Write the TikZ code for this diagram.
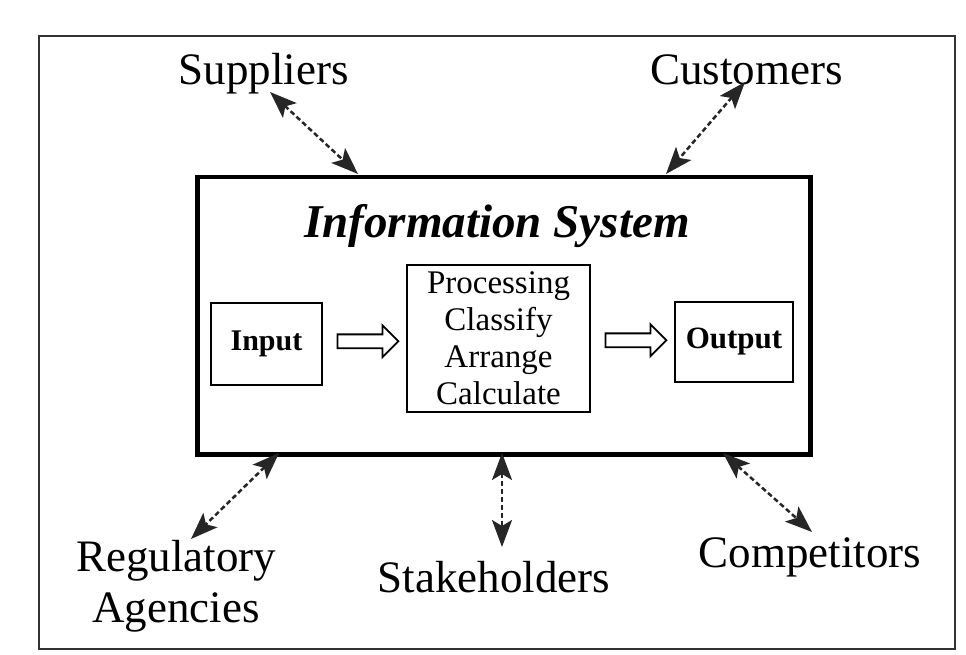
\documentclass[tikz,border=0pt]{standalone}
\usepackage{fontspec}
\setmainfont{Liberation Serif}
\usetikzlibrary{arrows.meta,shapes.arrows,calc}
\begin{document}
\begin{tikzpicture}[x=1pt,y=-1pt,
  lbl/.style={font=\fontsize{45}{45}\selectfont, inner sep=0pt, anchor=base},
  smallbox/.style={draw, line width=2pt, inner sep=0pt},
  hollow/.style={single arrow, draw, line width=1.8pt, fill=white,
    minimum height=61pt, minimum width=30pt, inner sep=6pt,
    text height=0pt, text depth=0pt, single arrow head extend=9pt},
  conn/.style={dash pattern=on 5pt off 3pt, line width=2.5pt, draw=black!85,
    {Stealth[length=27pt,width=20pt,inset=6pt]}-{Stealth[length=27pt,width=20pt,inset=6pt]}}]
\useasboundingbox (0,0) rectangle (966,655);
\fill[white] (0,0) rectangle (966,655);
\draw[line width=2.2pt, draw=black!80] (39,36) rectangle (955,649);

\node[draw, line width=4.5pt, minimum width=613pt, minimum height=277pt,
  inner sep=0pt, anchor=north west] (info) at (195,175) {};
\node[font=\fontsize{47}{47}\selectfont\bfseries\itshape, inner sep=0pt, anchor=base]
  (title) at (497,237) {Information System};

\node[smallbox, minimum width=111pt, minimum height=82pt,
  font=\fontsize{30}{30}\selectfont\bfseries] (input) at (266.5,344) {Input};
\node[smallbox, minimum width=183pt, minimum height=147pt, align=center,
  font=\fontsize{33}{37}\selectfont] (proc) at (498.5,338.5)
  {Processing\\Classify\\Arrange\\Calculate};
\node[smallbox, minimum width=118pt, minimum height=80pt,
  font=\fontsize{31}{31}\selectfont\bfseries] (output) at (734,342) {Output};

\node[hollow] (a1) at ($(input.east)!0.5!(proc.west)$) {};
\node[hollow] (a2) at ($(proc.east)!0.5!(output.west)$) {};

\node[lbl] (sup) at (263.5,85) {Suppliers};
\node[lbl] (cus) at (746.5,85) {Customers};
\node[lbl, align=center, font=\fontsize{45}{51}\selectfont] (reg) at (176,622) {Regulatory\\Agencies};
\node[lbl] (stk) at (494,592) {Stakeholders};
\node[lbl] (com) at (810,567) {Competitors};

\coordinate (s1) at (270,92);   \coordinate (s2) at (358,174);
\coordinate (c1) at (745,82);   \coordinate (c2) at (666,174);
\coordinate (r1) at (279,453);  \coordinate (r2) at (191,539);
\coordinate (k1) at (502,453);  \coordinate (k2) at (502,547);
\coordinate (m1) at (723,453);  \coordinate (m2) at (812,532);

\draw[conn] (s1) -- (s2);
\draw[conn] (c1) -- (c2);
\draw[conn] (r1) -- (r2);
\draw[conn] (k1) -- (k2);
\draw[conn] (m1) -- (m2);
\end{tikzpicture}
\end{document}
